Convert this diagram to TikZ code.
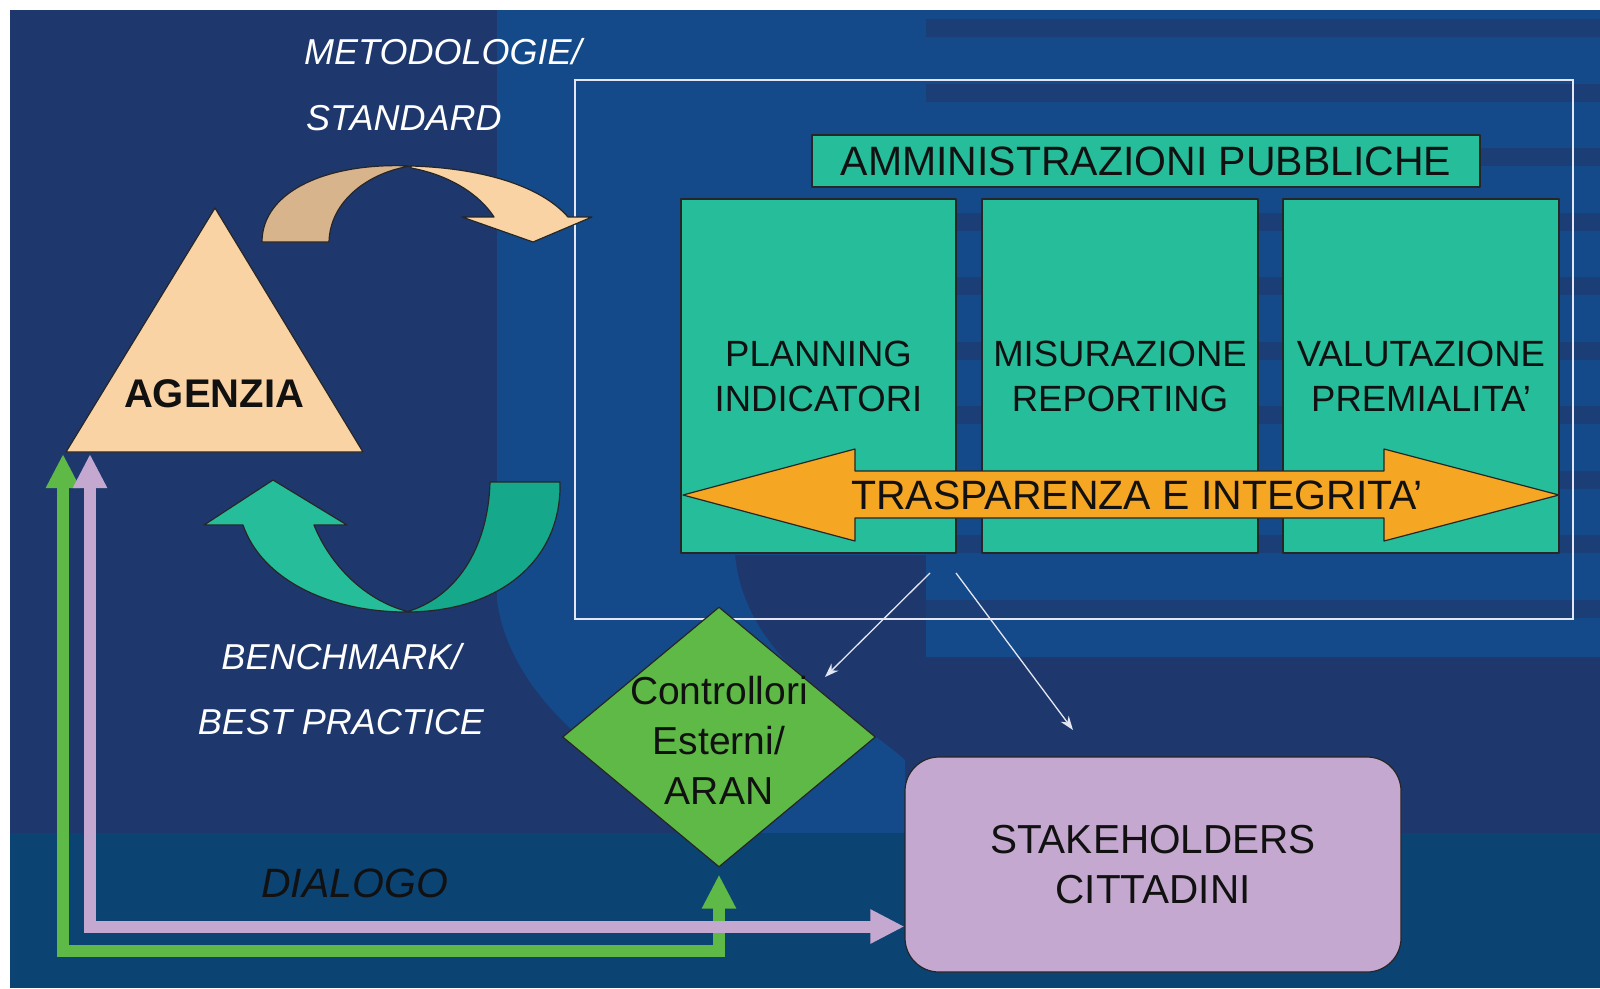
\documentclass[tikz,border=0pt]{standalone}
\usepackage{fontspec}
\setmainfont{Liberation Sans}
\usetikzlibrary{arrows.meta,shapes.geometric}

% palette
\definecolor{cNavy}{RGB}{30,56,110}
\definecolor{cBand}{RGB}{11,67,115}
\definecolor{cLight}{RGB}{20,74,138}
\definecolor{cStripe}{RGB}{27,62,118}
\definecolor{cTeal}{RGB}{38,189,155}
\definecolor{cTealDark}{RGB}{21,168,138}
\definecolor{cPeach}{RGB}{250,211,165}
\definecolor{cTan}{RGB}{216,180,140}
\definecolor{cOrange}{RGB}{245,166,35}
\definecolor{cLeaf}{RGB}{94,185,70}
\definecolor{cLilac}{RGB}{196,168,207}
\definecolor{cFrame}{RGB}{228,231,242}
\definecolor{cInk}{RGB}{17,17,17}

\newcommand\setfs[2]{\fontsize{#1}{#2}\selectfont}

\tikzset{
  outline/.style={draw=black!85, line width=1.2pt, line join=round},
  panel/.style={outline, fill=cTeal, inner sep=0pt, text=cInk, align=center},
  whitelabel/.style={text=white, inner sep=0pt, font=\setfs{36}{36}\itshape},
  thinarrow/.style={draw=cFrame, line width=1.3pt, -{Stealth[length=14pt,width=10pt]}},
  dlgline/.style={line width=12pt, line join=miter,
    {Triangle[width=32pt,length=34pt]}-{Triangle[width=32pt,length=34pt]}},
}

\begin{document}
\begin{tikzpicture}[x=1pt,y=-1pt]
\useasboundingbox (0,0) rectangle (1600,988);
\fill[white] (0,0) rectangle (1600,988);

% ---- backdrop ----
\fill[cNavy] (10,10) rectangle (1600,988);
\fill[cLight] (497,10) -- (1600,10) -- (1600,657) -- (926,657) -- (926,555) -- (735,555)
  .. controls (745,660) and (850,712) .. (905,760) -- (905,833) -- (760,833)
  .. controls (620,790) and (510,700) .. (497,600) -- cycle;
\foreach \k in {0,...,9} {
  \fill[cStripe] (926,{19+64.5*\k}) rectangle (1600,{37+64.5*\k});
}
\fill[cBand] (10,833) rectangle (1600,988);

% ---- public administrations frame ----
\node[draw=cFrame, line width=1.8pt, minimum width=998pt, minimum height=539pt, inner sep=0pt]
  (apbox) at (1074,349.5) {};

% ---- curved arrow: methodologies / standards ----
\fill[cTan, outline] (262,242) .. controls (262,190) and (330,162) .. (411,166)
  .. controls (370,172) and (330,200) .. (329,242) -- cycle;
\fill[cPeach, outline] (411,166) .. controls (480,168) and (540,185) .. (568,217)
  -- (592,217) -- (533,242) -- (462,217) -- (494,217)
  .. controls (480,195) and (450,175) .. (411,168) -- cycle;

% ---- curved arrow: benchmark / best practice ----
\fill[cTealDark, outline] (560,482) .. controls (562,560) and (500,612) .. (406,612)
  .. controls (455,598) and (488,550) .. (490,482) -- cycle;
\fill[cTeal, outline] (406,612) .. controls (330,612) and (262,580) .. (243,525)
  -- (204,525) -- (273,480) -- (347,525) -- (314,525)
  .. controls (330,565) and (365,600) .. (406,611) -- cycle;

% ---- agency ----
\coordinate (apex) at (215,208);
\coordinate (baseL) at (66,452);
\coordinate (baseR) at (363,452);
\fill[cPeach, outline] (apex) -- (baseL) -- (baseR) -- cycle;
\node[inner sep=0pt, text=cInk, font=\setfs{40}{40}\bfseries] (agenzia) at (214,394) {AGENZIA};

% ---- administrations ----
\node[panel, minimum width=668pt, minimum height=52pt, font=\setfs{41}{41}]
  (amm) at (1146,161) {AMMINISTRAZIONI PUBBLICHE};
\node[panel, minimum width=275pt, minimum height=354pt, font=\setfs{36.5}{45}]
  (plan) at (818.5,376) {PLANNING\\INDICATORI};
\node[panel, minimum width=276pt, minimum height=354pt, font=\setfs{36.5}{45}]
  (misu) at (1120,376) {MISURAZIONE\\REPORTING};
\node[panel, minimum width=276pt, minimum height=354pt, font=\setfs{36.5}{45}]
  (valu) at (1421,376) {VALUTAZIONE\\PREMIALITA’};

% transparency band across the three phases
\fill[cOrange, outline] (683,495) -- (855,449) -- (855,471) -- (1384,471) -- (1384,449)
  -- (1559,495) -- (1384,541) -- (1384,518) -- (855,518) -- (855,541) -- cycle;
\node[inner sep=0pt, text=cInk, font=\setfs{41}{41}] (trasp) at (1137,495) {TRASPARENZA E INTEGRITA’};

% ---- external controllers ----
\node[diamond, outline, fill=cLeaf, minimum width=313pt, minimum height=260pt, inner sep=0pt]
  (ctrl) at (719,737) {};
\node[inner sep=0pt, text=cInk, align=center, font=\setfs{39}{50}] (ctrltext) at (719,740)
  {Controllori\\Esterni/\\ARAN};

% ---- stakeholders ----
\node[outline, fill=cLilac, rounded corners=34pt, minimum width=496pt, minimum height=215pt,
  text=cInk, align=center, font=\setfs{40.5}{50}] (stake) at (1153,864.5) {STAKEHOLDERS\\CITTADINI};

% ---- outputs of the administrations ----
\coordinate (outA) at (930,573);
\coordinate (outB) at (956,573);
\coordinate (inA) at (825,677);
\coordinate (inB) at (1073,730);
\draw[thinarrow] (outA) -- (inA);
\draw[thinarrow] (outB) -- (inB);

% ---- dialogue channels ----
\coordinate (gTop) at (63,454);
\coordinate (lTop) at (90,454);
\coordinate (gRow) at (0,951);
\coordinate (lRow) at (0,926.5);
\draw[dlgline, draw=cLeaf] (gTop) |- (gRow -| ctrl.south) -- ([yshift=-7pt]ctrl.south);
\draw[dlgline, draw=cLilac] (lTop) |- (stake.west |- lRow);

% ---- labels ----
\node[whitelabel, anchor=west] (metod) at (304,52) {METODOLOGIE/};
\node[whitelabel, anchor=west] (stand) at (306,118) {STANDARD};
\node[whitelabel] (bench) at (341.5,657) {BENCHMARK/};
\node[whitelabel] (bestp) at (341,722) {BEST PRACTICE};
\node[inner sep=0pt, text=cInk, font=\setfs{41}{41}\itshape] (dialogo) at (354.5,883) {DIALOGO};
\end{tikzpicture}
\end{document}
